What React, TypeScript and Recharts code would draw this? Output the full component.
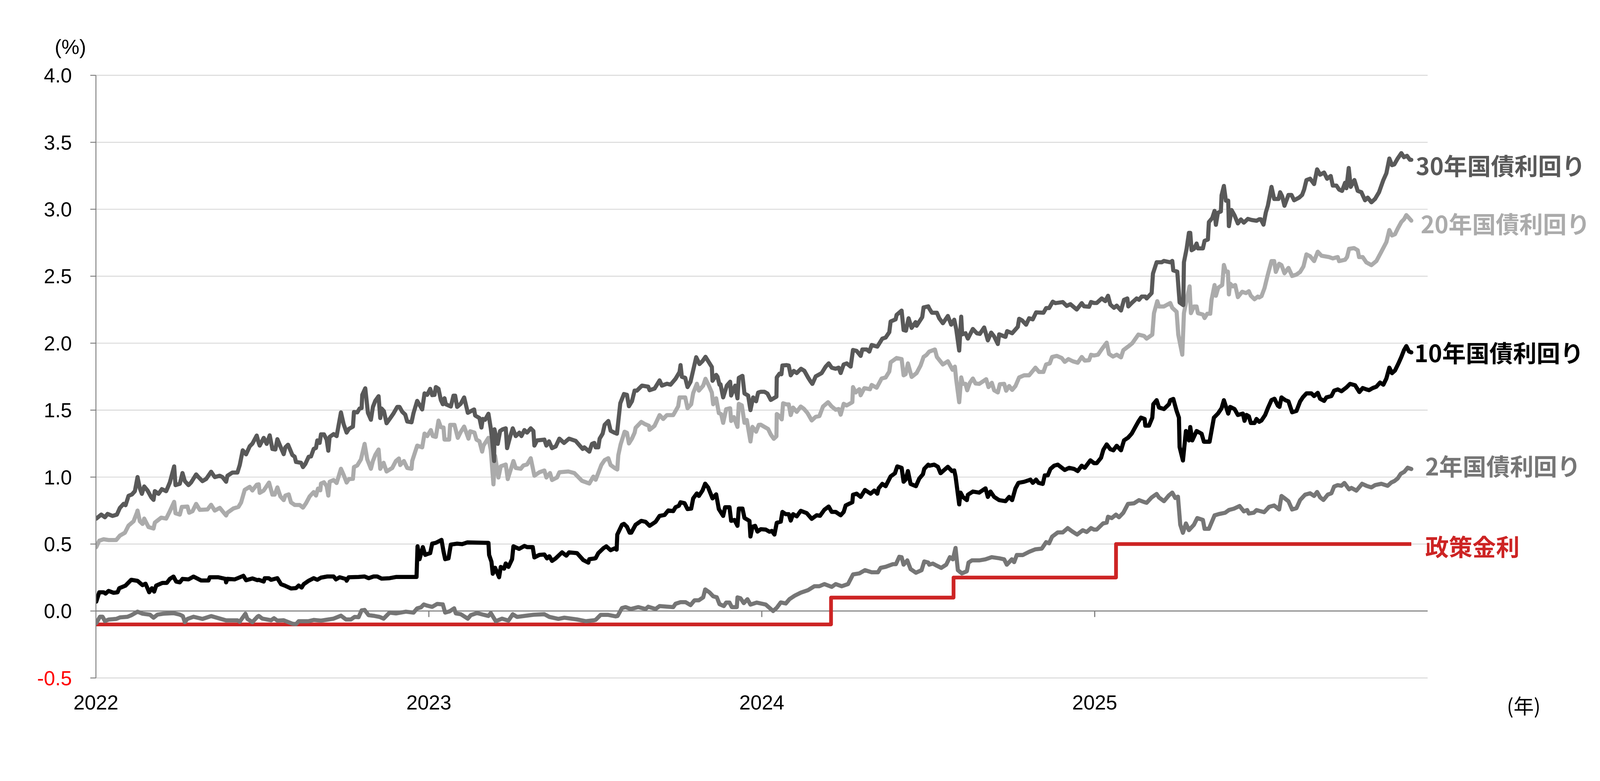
import React from 'react';
import { LineChart, Line, XAxis, YAxis, CartesianGrid, ReferenceLine } from 'recharts';

// decimal year, yield (%)
const jgb30: [number, number][] = [
[2022.001,0.69],[2022.016,0.72],[2022.027,0.70],[2022.035,0.725],[2022.050,0.71],[2022.063,0.72],[2022.072,0.77],[2022.083,0.80],[2022.089,0.79],[2022.098,0.86],[2022.108,0.87],[2022.117,0.895],[2022.125,1.00],[2022.132,0.915],[2022.138,0.875],[2022.145,0.93],[2022.155,0.90],[2022.166,0.85],[2022.173,0.83],[2022.177,0.895],[2022.188,0.875],[2022.198,0.91],[2022.211,0.895],[2022.222,0.96],[2022.235,1.08],[2022.239,0.94],[2022.252,0.95],[2022.260,1.03],[2022.267,0.97],[2022.278,0.94],[2022.286,0.96],[2022.301,1.02],[2022.308,1.00],[2022.320,0.97],[2022.331,0.986],[2022.346,1.04],[2022.357,1.00],[2022.372,1.01],[2022.380,1.00],[2022.391,0.965],[2022.395,1.01],[2022.410,1.034],[2022.425,1.034],[2022.432,1.09],[2022.441,1.20],[2022.451,1.17],[2022.462,1.23],[2022.470,1.25],[2022.483,1.31],
[2022.489,1.255],[2022.492,1.235],[2022.504,1.293],[2022.513,1.248],[2022.522,1.312],[2022.530,1.21],[2022.539,1.206],[2022.545,1.283],[2022.554,1.229],[2022.564,1.171],[2022.569,1.222],[2022.577,1.242],[2022.582,1.213],[2022.590,1.165],[2022.597,1.152],[2022.601,1.113],[2022.616,1.107],[2022.622,1.075],[2022.629,1.098],[2022.639,1.152],[2022.646,1.154],[2022.654,1.21],[2022.661,1.218],[2022.665,1.274],[2022.672,1.255],[2022.676,1.319],[2022.685,1.319],[2022.693,1.28],[2022.698,1.197],[2022.702,1.30],[2022.714,1.321],[2022.723,1.306],[2022.736,1.483],[2022.744,1.396],[2022.753,1.332],[2022.760,1.36],[2022.772,1.377],[2022.775,1.486],[2022.785,1.483],[2022.792,1.512],[2022.798,1.515],[2022.800,1.614],[2022.809,1.663],[2022.817,1.48],[2022.826,1.428],[2022.832,1.524],[2022.839,1.569],[2022.849,1.604],[2022.854,1.441],[2022.858,1.512],[2022.865,1.492],[2022.873,1.402],[2022.886,1.447],[2022.894,1.476],[2022.905,1.524],[2022.912,1.524],[2022.920,1.488],[2022.929,1.467],[2022.935,1.415],[2022.948,1.409],[2022.954,1.479],[2022.965,1.569],[2022.980,1.505],[2022.987,1.625],
[2022.995,1.614],[2023.004,1.659],[2023.010,1.612],[2023.017,1.614],[2023.021,1.672],[2023.029,1.659],[2023.036,1.576],[2023.042,1.544],[2023.047,1.589],[2023.051,1.544],[2023.066,1.527],[2023.074,1.608],[2023.079,1.608],[2023.085,1.524],[2023.096,1.548],[2023.106,1.595],[2023.117,1.48],[2023.126,1.492],[2023.136,1.505],[2023.139,1.46],[2023.152,1.441],[2023.158,1.37],[2023.162,1.434],[2023.169,1.428],[2023.179,1.473],[2023.186,1.364],[2023.190,1.28],[2023.196,1.12],[2023.197,1.357],[2023.207,1.248],[2023.214,1.344],[2023.222,1.357],[2023.231,1.364],[2023.235,1.216],[2023.244,1.30],[2023.252,1.364],[2023.261,1.306],[2023.272,1.332],[2023.278,1.306],[2023.287,1.351],[2023.295,1.332],[2023.306,1.364],[2023.314,1.344],[2023.317,1.235],[2023.325,1.274],[2023.347,1.28],[2023.353,1.235],[2023.361,1.267],[2023.370,1.216],[2023.381,1.229],[2023.392,1.287],[2023.406,1.255],[2023.421,1.287],[2023.441,1.27],[2023.462,1.21],[2023.467,1.222],[2023.482,1.19],[2023.490,1.248],[2023.497,1.255],
[2023.501,1.222],[2023.509,1.222],[2023.513,1.287],[2023.522,1.324],[2023.528,1.39],[2023.539,1.419],[2023.546,1.346],[2023.558,1.331],[2023.565,1.324],[2023.575,1.551],[2023.586,1.62],[2023.595,1.614],[2023.601,1.529],[2023.610,1.566],[2023.618,1.646],[2023.625,1.646],[2023.640,1.683],[2023.659,1.675],[2023.663,1.649],[2023.678,1.661],[2023.693,1.722],[2023.700,1.683],[2023.715,1.697],[2023.726,1.69],[2023.741,1.734],[2023.753,1.785],[2023.756,1.836],[2023.760,1.749],[2023.770,1.741],[2023.777,1.672],[2023.786,1.712],[2023.803,1.895],[2023.813,1.844],[2023.822,1.866],[2023.831,1.898],[2023.841,1.858],[2023.850,1.822],[2023.852,1.719],[2023.863,1.763],[2023.867,1.749],[2023.873,1.69],[2023.876,1.693],[2023.884,1.595],[2023.895,1.683],[2023.905,1.712],[2023.908,1.609],[2023.920,1.683],[2023.927,1.588],[2023.931,1.741],[2023.942,1.756],[2023.948,1.624],[2023.959,1.609],[2023.966,1.50],[2023.974,1.595],[2023.983,1.566],[2023.989,1.631],
[2023.997,1.637],[2024.008,1.637],[2024.017,1.624],[2024.027,1.576],[2024.038,1.592],[2024.044,1.60],[2024.045,1.744],[2024.053,1.772],[2024.059,1.768],[2024.062,1.833],[2024.075,1.836],[2024.081,1.833],[2024.087,1.76],[2024.096,1.793],[2024.105,1.777],[2024.118,1.809],[2024.128,1.793],[2024.139,1.744],[2024.145,1.72],[2024.152,1.696],[2024.162,1.752],[2024.180,1.777],[2024.192,1.825],[2024.201,1.849],[2024.210,1.817],[2024.222,1.809],[2024.231,1.817],[2024.237,1.777],[2024.246,1.841],[2024.255,1.849],[2024.267,1.825],[2024.274,1.949],[2024.285,1.942],[2024.297,1.905],[2024.302,1.953],[2024.315,1.953],[2024.323,1.937],[2024.330,1.986],[2024.347,1.974],[2024.362,2.034],[2024.372,2.042],[2024.383,2.082],[2024.387,2.162],[2024.402,2.178],[2024.405,2.211],[2024.420,2.243],[2024.426,2.098],[2024.433,2.093],[2024.441,2.186],[2024.450,2.114],[2024.462,2.157],[2024.465,2.13],[2024.482,2.195],[2024.486,2.267],[2024.500,2.275],
[2024.503,2.259],[2024.511,2.227],[2024.526,2.227],[2024.533,2.186],[2024.544,2.149],[2024.559,2.203],[2024.569,2.138],[2024.578,2.175],[2024.584,2.106],[2024.593,1.945],[2024.599,2.198],[2024.602,2.066],[2024.612,2.074],[2024.619,2.034],[2024.634,2.106],[2024.646,2.074],[2024.655,2.069],[2024.668,2.117],[2024.679,2.021],[2024.689,2.079],[2024.698,2.05],[2024.709,1.994],[2024.713,2.066],[2024.732,2.047],[2024.737,2.09],[2024.752,2.074],[2024.769,2.122],[2024.773,2.182],[2024.782,2.17],[2024.794,2.138],[2024.803,2.186],[2024.814,2.178],[2024.824,2.23],[2024.846,2.227],[2024.854,2.262],[2024.863,2.262],[2024.874,2.31],[2024.882,2.299],[2024.904,2.307],[2024.916,2.278],[2024.927,2.291],[2024.946,2.251],[2024.961,2.299],[2024.968,2.275],[2024.983,2.272],[2024.989,2.307],
[2024.998,2.30],[2025.006,2.30],[2025.021,2.334],[2025.032,2.314],[2025.040,2.354],[2025.047,2.288],[2025.058,2.264],[2025.066,2.28],[2025.079,2.244],[2025.088,2.324],[2025.098,2.334],[2025.101,2.274],[2025.111,2.30],[2025.126,2.334],[2025.133,2.324],[2025.141,2.348],[2025.152,2.348],[2025.156,2.334],[2025.171,2.374],[2025.175,2.52],[2025.186,2.604],[2025.201,2.604],[2025.208,2.614],[2025.227,2.604],[2025.233,2.614],[2025.236,2.544],[2025.248,2.534],[2025.255,2.304],[2025.266,2.284],[2025.268,2.604],[2025.276,2.704],[2025.283,2.824],[2025.287,2.824],[2025.291,2.694],[2025.298,2.704],[2025.306,2.744],[2025.310,2.708],[2025.325,2.708],[2025.330,2.764],[2025.340,2.774],[2025.343,2.904],[2025.353,2.934],[2025.360,2.988],[2025.364,2.884],[2025.370,2.974],[2025.379,2.984],[2025.381,3.104],[2025.388,3.174],[2025.394,3.064],[2025.401,3.064],[2025.403,2.874],[2025.411,2.994],[2025.420,2.954],[2025.430,2.894],[2025.439,2.924],[2025.448,2.90],[2025.460,2.928],[2025.471,2.92],[2025.486,2.914],
[2025.494,2.925],[2025.499,2.925],[2025.507,2.885],[2025.514,2.976],[2025.520,3.026],[2025.524,3.077],[2025.531,3.167],[2025.539,3.077],[2025.552,3.077],[2025.557,3.127],[2025.563,3.097],[2025.570,3.026],[2025.582,3.107],[2025.591,3.107],[2025.599,3.067],[2025.614,3.087],[2025.623,3.107],[2025.629,3.147],[2025.636,3.218],[2025.647,3.228],[2025.659,3.188],[2025.668,3.298],[2025.677,3.258],[2025.689,3.274],[2025.698,3.228],[2025.709,3.248],[2025.715,3.177],[2025.726,3.177],[2025.734,3.147],[2025.743,3.137],[2025.752,3.198],[2025.756,3.157],[2025.763,3.308],[2025.769,3.167],[2025.780,3.218],[2025.790,3.137],[2025.801,3.127],[2025.812,3.067],[2025.820,3.087],[2025.831,3.052],[2025.842,3.077],[2025.854,3.127],[2025.867,3.218],[2025.876,3.268],[2025.885,3.379],[2025.893,3.329],[2025.900,3.335],[2025.910,3.379],[2025.921,3.419],[2025.929,3.389],[2025.938,3.399],[2025.947,3.369],[2025.951,3.369],
];

const jgb20: [number, number][] = [
[2022.001,0.477],[2022.010,0.525],[2022.023,0.536],[2022.038,0.53],[2022.061,0.53],[2022.072,0.563],[2022.087,0.584],[2022.098,0.638],[2022.113,0.67],[2022.123,0.734],[2022.125,0.75],[2022.132,0.67],[2022.140,0.65],[2022.145,0.69],[2022.158,0.627],[2022.173,0.616],[2022.177,0.66],[2022.196,0.697],[2022.211,0.69],[2022.222,0.745],[2022.235,0.815],[2022.239,0.73],[2022.252,0.72],[2022.258,0.777],[2022.275,0.78],[2022.280,0.734],[2022.290,0.745],[2022.301,0.80],[2022.312,0.755],[2022.335,0.758],[2022.346,0.793],[2022.357,0.75],[2022.372,0.77],[2022.391,0.713],[2022.395,0.734],[2022.413,0.766],[2022.428,0.777],[2022.436,0.81],[2022.447,0.905],[2022.462,0.927],[2022.470,0.90],[2022.483,0.943],
[2022.489,0.946],[2022.492,0.882],[2022.504,0.90],[2022.520,0.959],[2022.530,0.869],[2022.537,0.869],[2022.545,0.923],[2022.554,0.856],[2022.564,0.828],[2022.569,0.862],[2022.579,0.871],[2022.586,0.811],[2022.597,0.792],[2022.612,0.792],[2022.622,0.772],[2022.631,0.805],[2022.642,0.856],[2022.654,0.888],[2022.661,0.862],[2022.667,0.914],[2022.674,0.901],[2022.676,0.952],[2022.685,0.961],[2022.693,0.933],[2022.698,0.862],[2022.702,0.965],[2022.714,0.978],[2022.723,0.956],[2022.736,1.062],[2022.744,1.017],[2022.753,0.959],[2022.760,0.985],[2022.772,0.987],[2022.775,1.075],[2022.785,1.087],[2022.796,1.132],[2022.807,1.248],[2022.815,1.132],[2022.826,1.062],[2022.832,1.12],[2022.839,1.165],[2022.849,1.206],[2022.854,1.062],[2022.864,1.107],[2022.873,1.042],[2022.890,1.068],[2022.901,1.12],[2022.910,1.139],[2022.914,1.09],[2022.925,1.12],[2022.935,1.068],[2022.948,1.062],[2022.950,1.12],[2022.965,1.235],[2022.980,1.222],[2022.987,1.325],
[2022.995,1.306],[2023.006,1.351],[2023.012,1.306],[2023.021,1.30],[2023.029,1.422],[2023.036,1.373],[2023.044,1.37],[2023.047,1.28],[2023.061,1.28],[2023.064,1.39],[2023.077,1.39],[2023.087,1.293],[2023.096,1.338],[2023.106,1.377],[2023.119,1.287],[2023.124,1.342],[2023.137,1.332],[2023.143,1.28],[2023.152,1.267],[2023.160,1.19],[2023.164,1.235],[2023.179,1.293],[2023.186,1.203],[2023.194,0.946],[2023.199,1.158],[2023.209,0.997],[2023.216,1.081],[2023.231,1.094],[2023.237,0.985],[2023.254,1.12],[2023.261,1.068],[2023.276,1.062],[2023.284,1.087],[2023.295,1.094],[2023.306,1.141],[2023.317,1.01],[2023.332,1.036],[2023.347,1.049],[2023.353,0.997],[2023.364,1.03],[2023.370,0.978],[2023.385,0.997],[2023.392,1.036],[2023.419,1.042],[2023.437,1.03],[2023.460,0.972],[2023.482,0.952],[2023.494,1.004],
[2023.501,0.98],[2023.509,1.031],[2023.518,1.09],[2023.528,1.127],[2023.539,1.141],[2023.546,1.09],[2023.558,1.068],[2023.566,1.057],[2023.569,1.163],[2023.576,1.244],[2023.588,1.339],[2023.595,1.331],[2023.601,1.251],[2023.610,1.287],[2023.618,1.331],[2023.621,1.368],[2023.638,1.412],[2023.648,1.397],[2023.661,1.383],[2023.663,1.353],[2023.678,1.383],[2023.693,1.463],[2023.704,1.434],[2023.715,1.463],[2023.734,1.463],[2023.749,1.529],[2023.753,1.595],[2023.770,1.595],[2023.777,1.514],[2023.788,1.544],[2023.794,1.628],[2023.805,1.697],[2023.811,1.646],[2023.824,1.683],[2023.831,1.734],[2023.841,1.683],[2023.850,1.631],[2023.854,1.544],[2023.863,1.588],[2023.871,1.478],[2023.878,1.47],[2023.884,1.405],[2023.893,1.507],[2023.905,1.514],[2023.908,1.419],[2023.916,1.448],[2023.927,1.375],[2023.931,1.547],[2023.940,1.536],[2023.948,1.405],[2023.955,1.426],[2023.966,1.266],[2023.972,1.375],[2023.983,1.339],[2023.991,1.39],
[2023.997,1.391],[2024.008,1.375],[2024.019,1.359],[2024.027,1.318],[2024.036,1.286],[2024.044,1.305],[2024.045,1.471],[2024.053,1.455],[2024.060,1.431],[2024.064,1.551],[2024.074,1.543],[2024.081,1.543],[2024.087,1.463],[2024.094,1.519],[2024.105,1.487],[2024.117,1.527],[2024.126,1.511],[2024.137,1.479],[2024.150,1.423],[2024.162,1.45],[2024.173,1.455],[2024.184,1.527],[2024.199,1.559],[2024.210,1.527],[2024.222,1.503],[2024.231,1.508],[2024.237,1.466],[2024.246,1.547],[2024.255,1.535],[2024.272,1.559],[2024.274,1.672],[2024.282,1.632],[2024.293,1.656],[2024.297,1.611],[2024.308,1.664],[2024.325,1.656],[2024.330,1.688],[2024.345,1.667],[2024.360,1.736],[2024.372,1.744],[2024.383,1.788],[2024.387,1.857],[2024.405,1.889],[2024.420,1.881],[2024.426,1.76],[2024.432,1.768],[2024.439,1.849],[2024.450,1.748],[2024.465,1.777],[2024.477,1.833],[2024.486,1.897],[2024.495,1.913],
[2024.503,1.937],[2024.520,1.953],[2024.526,1.897],[2024.544,1.841],[2024.559,1.865],[2024.573,1.801],[2024.580,1.825],[2024.584,1.728],[2024.593,1.559],[2024.599,1.744],[2024.604,1.696],[2024.612,1.696],[2024.617,1.648],[2024.625,1.704],[2024.634,1.736],[2024.642,1.699],[2024.653,1.696],[2024.674,1.731],[2024.681,1.672],[2024.691,1.704],[2024.698,1.648],[2024.709,1.632],[2024.715,1.693],[2024.728,1.696],[2024.734,1.645],[2024.743,1.68],[2024.752,1.651],[2024.762,1.68],[2024.773,1.744],[2024.788,1.76],[2024.803,1.76],[2024.822,1.817],[2024.833,1.785],[2024.846,1.785],[2024.854,1.841],[2024.865,1.849],[2024.872,1.897],[2024.886,1.905],[2024.901,1.889],[2024.910,1.86],[2024.921,1.881],[2024.934,1.865],[2024.949,1.854],[2024.961,1.897],[2024.970,1.87],[2024.983,1.873],[2024.989,1.913],
[2024.998,1.908],[2025.010,1.914],[2025.021,1.954],[2025.036,2.004],[2025.043,1.92],[2025.055,1.90],[2025.066,1.914],[2025.079,1.894],[2025.086,1.948],[2025.100,1.974],[2025.113,2.00],[2025.131,2.064],[2025.148,2.054],[2025.156,2.034],[2025.173,2.064],[2025.178,2.224],[2025.188,2.314],[2025.193,2.274],[2025.208,2.274],[2025.227,2.30],[2025.233,2.264],[2025.246,2.234],[2025.251,2.064],[2025.263,1.914],[2025.268,2.224],[2025.276,2.324],[2025.285,2.424],[2025.289,2.224],[2025.298,2.274],[2025.306,2.274],[2025.310,2.224],[2025.325,2.214],[2025.330,2.188],[2025.338,2.22],[2025.347,2.22],[2025.351,2.324],[2025.360,2.434],[2025.364,2.354],[2025.371,2.414],[2025.383,2.434],[2025.388,2.584],[2025.394,2.534],[2025.400,2.534],[2025.403,2.364],[2025.407,2.444],[2025.415,2.424],[2025.422,2.434],[2025.430,2.344],[2025.443,2.384],[2025.454,2.374],[2025.463,2.388],[2025.469,2.354],[2025.480,2.328],[2025.490,2.348],
[2025.494,2.341],[2025.501,2.351],[2025.510,2.411],[2025.520,2.512],[2025.531,2.613],[2025.539,2.613],[2025.544,2.532],[2025.554,2.593],[2025.561,2.583],[2025.570,2.522],[2025.582,2.562],[2025.593,2.502],[2025.606,2.512],[2025.617,2.532],[2025.627,2.573],[2025.636,2.663],[2025.647,2.649],[2025.659,2.613],[2025.670,2.683],[2025.681,2.653],[2025.704,2.643],[2025.715,2.633],[2025.730,2.643],[2025.734,2.613],[2025.752,2.623],[2025.758,2.643],[2025.764,2.704],[2025.779,2.71],[2025.790,2.694],[2025.794,2.643],[2025.805,2.643],[2025.816,2.603],[2025.831,2.583],[2025.846,2.613],[2025.861,2.683],[2025.876,2.754],[2025.885,2.845],[2025.893,2.804],[2025.902,2.814],[2025.910,2.855],[2025.921,2.905],[2025.929,2.925],[2025.936,2.956],[2025.944,2.935],[2025.951,2.915],
];

const jgb10: [number, number][] = [
[2022.001,0.07],[2022.010,0.14],[2022.023,0.14],[2022.029,0.13],[2022.038,0.15],[2022.053,0.136],[2022.065,0.14],[2022.070,0.17],[2022.089,0.19],[2022.106,0.233],[2022.125,0.225],[2022.140,0.193],[2022.149,0.204],[2022.160,0.14],[2022.168,0.17],[2022.175,0.145],[2022.181,0.19],[2022.200,0.21],[2022.213,0.21],[2022.222,0.24],[2022.233,0.257],[2022.241,0.22],[2022.252,0.214],[2022.260,0.24],[2022.278,0.236],[2022.293,0.257],[2022.316,0.228],[2022.338,0.228],[2022.342,0.252],[2022.368,0.252],[2022.389,0.24],[2022.391,0.214],[2022.395,0.24],[2022.417,0.236],[2022.443,0.263],[2022.451,0.23],[2022.470,0.243],[2022.485,0.23],
[2022.489,0.233],[2022.504,0.22],[2022.507,0.245],[2022.519,0.245],[2022.526,0.233],[2022.545,0.245],[2022.556,0.20],[2022.567,0.19],[2022.586,0.168],[2022.601,0.171],[2022.609,0.19],[2022.618,0.175],[2022.624,0.20],[2022.639,0.226],[2022.654,0.245],[2022.665,0.233],[2022.676,0.249],[2022.695,0.258],[2022.714,0.258],[2022.721,0.236],[2022.732,0.252],[2022.751,0.239],[2022.753,0.226],[2022.759,0.252],[2022.789,0.254],[2022.807,0.258],[2022.819,0.245],[2022.834,0.258],[2022.845,0.258],[2022.858,0.242],[2022.882,0.245],[2022.901,0.254],[2022.939,0.254],[2022.963,0.254],[2022.966,0.483],[2022.972,0.387],[2022.982,0.477],[2022.989,0.419],
[2022.995,0.425],[2023.004,0.432],[2023.010,0.503],[2023.021,0.509],[2023.038,0.531],[2023.044,0.445],[2023.049,0.387],[2023.059,0.393],[2023.066,0.496],[2023.085,0.503],[2023.100,0.499],[2023.115,0.512],[2023.179,0.509],[2023.181,0.419],[2023.188,0.368],[2023.192,0.278],[2023.199,0.323],[2023.211,0.252],[2023.216,0.329],[2023.226,0.316],[2023.231,0.355],[2023.239,0.329],[2023.250,0.387],[2023.254,0.483],[2023.271,0.464],[2023.287,0.486],[2023.295,0.477],[2023.312,0.477],[2023.317,0.40],[2023.332,0.419],[2023.347,0.422],[2023.355,0.393],[2023.362,0.409],[2023.370,0.374],[2023.381,0.393],[2023.400,0.438],[2023.413,0.413],[2023.421,0.438],[2023.445,0.432],[2023.464,0.38],[2023.479,0.361],[2023.482,0.387],[2023.499,0.393],
[2023.501,0.395],[2023.509,0.432],[2023.524,0.468],[2023.533,0.483],[2023.546,0.454],[2023.558,0.468],[2023.564,0.458],[2023.566,0.571],[2023.580,0.644],[2023.586,0.651],[2023.595,0.629],[2023.603,0.585],[2023.608,0.585],[2023.621,0.644],[2023.638,0.673],[2023.651,0.666],[2023.663,0.636],[2023.681,0.666],[2023.693,0.71],[2023.708,0.717],[2023.719,0.751],[2023.734,0.746],[2023.741,0.775],[2023.751,0.786],[2023.756,0.812],[2023.768,0.805],[2023.777,0.761],[2023.788,0.765],[2023.794,0.841],[2023.805,0.878],[2023.811,0.859],[2023.822,0.90],[2023.830,0.951],[2023.839,0.922],[2023.852,0.841],[2023.863,0.871],[2023.871,0.761],[2023.884,0.71],[2023.890,0.775],[2023.903,0.775],[2023.908,0.673],[2023.918,0.68],[2023.927,0.636],[2023.931,0.765],[2023.942,0.765],[2023.948,0.695],[2023.963,0.673],[2023.966,0.556],[2023.972,0.629],[2023.980,0.636],[2023.987,0.593],
[2023.997,0.611],[2024.012,0.608],[2024.023,0.592],[2024.030,0.598],[2024.038,0.571],[2024.045,0.659],[2024.057,0.667],[2024.062,0.74],[2024.072,0.723],[2024.081,0.723],[2024.087,0.675],[2024.094,0.723],[2024.105,0.707],[2024.117,0.748],[2024.135,0.731],[2024.150,0.688],[2024.165,0.715],[2024.175,0.711],[2024.188,0.756],[2024.201,0.78],[2024.210,0.74],[2024.222,0.74],[2024.237,0.715],[2024.246,0.74],[2024.252,0.788],[2024.272,0.812],[2024.274,0.868],[2024.285,0.876],[2024.297,0.852],[2024.310,0.904],[2024.327,0.876],[2024.338,0.90],[2024.347,0.876],[2024.351,0.916],[2024.362,0.949],[2024.372,0.932],[2024.387,1.005],[2024.400,1.029],[2024.407,1.08],[2024.420,1.069],[2024.426,0.965],[2024.432,0.981],[2024.439,1.045],[2024.447,0.949],[2024.463,0.932],[2024.473,0.989],[2024.484,1.021],[2024.488,1.061],[2024.500,1.093],
[2024.503,1.085],[2024.518,1.093],[2024.529,1.077],[2024.537,1.029],[2024.559,1.077],[2024.571,1.045],[2024.578,1.05],[2024.582,1.005],[2024.593,0.796],[2024.597,0.884],[2024.604,0.852],[2024.616,0.828],[2024.619,0.868],[2024.634,0.892],[2024.653,0.884],[2024.672,0.916],[2024.679,0.852],[2024.687,0.892],[2024.698,0.852],[2024.713,0.828],[2024.732,0.82],[2024.743,0.852],[2024.752,0.828],[2024.762,0.916],[2024.771,0.957],[2024.788,0.965],[2024.807,0.981],[2024.814,0.957],[2024.824,0.981],[2024.831,0.957],[2024.844,0.949],[2024.850,1.013],[2024.859,1.013],[2024.867,1.061],[2024.878,1.085],[2024.889,1.093],[2024.910,1.053],[2024.923,1.069],[2024.938,1.061],[2024.949,1.045],[2024.961,1.085],[2024.970,1.069],[2024.987,1.125],
[2024.998,1.104],[2025.006,1.104],[2025.019,1.144],[2025.026,1.204],[2025.036,1.244],[2025.047,1.208],[2025.056,1.20],[2025.066,1.234],[2025.079,1.20],[2025.088,1.274],[2025.100,1.294],[2025.111,1.324],[2025.122,1.374],[2025.131,1.414],[2025.139,1.444],[2025.150,1.434],[2025.152,1.384],[2025.163,1.384],[2025.173,1.444],[2025.176,1.544],[2025.186,1.574],[2025.193,1.52],[2025.208,1.508],[2025.223,1.544],[2025.227,1.574],[2025.236,1.584],[2025.246,1.494],[2025.253,1.444],[2025.255,1.224],[2025.265,1.124],[2025.274,1.344],[2025.283,1.274],[2025.287,1.374],[2025.293,1.274],[2025.306,1.344],[2025.321,1.324],[2025.328,1.264],[2025.345,1.264],[2025.358,1.444],[2025.370,1.474],[2025.381,1.514],[2025.388,1.574],[2025.401,1.474],[2025.407,1.524],[2025.420,1.508],[2025.430,1.464],[2025.445,1.474],[2025.450,1.42],[2025.456,1.464],[2025.463,1.454],[2025.469,1.404],[2025.480,1.404],[2025.486,1.434],
[2025.494,1.413],[2025.501,1.423],[2025.512,1.464],[2025.520,1.514],[2025.531,1.575],[2025.540,1.585],[2025.550,1.534],[2025.555,1.524],[2025.561,1.595],[2025.572,1.575],[2025.582,1.565],[2025.593,1.484],[2025.606,1.494],[2025.617,1.565],[2025.625,1.595],[2025.636,1.625],[2025.651,1.625],[2025.659,1.605],[2025.670,1.629],[2025.677,1.585],[2025.689,1.569],[2025.696,1.595],[2025.711,1.605],[2025.719,1.645],[2025.730,1.655],[2025.741,1.641],[2025.756,1.669],[2025.767,1.696],[2025.782,1.686],[2025.790,1.655],[2025.795,1.635],[2025.805,1.665],[2025.816,1.655],[2025.824,1.649],[2025.835,1.665],[2025.846,1.675],[2025.857,1.706],[2025.867,1.69],[2025.876,1.736],[2025.885,1.817],[2025.893,1.776],[2025.902,1.796],[2025.912,1.847],[2025.921,1.897],[2025.929,1.948],[2025.936,1.978],[2025.944,1.938],[2025.951,1.931],
];

const jgb2: [number, number][] = [
[2022.001,-0.09],[2022.012,-0.043],[2022.020,-0.043],[2022.027,-0.075],[2022.038,-0.064],[2022.061,-0.059],[2022.072,-0.048],[2022.095,-0.043],[2022.106,-0.032],[2022.125,-0.005],[2022.140,-0.02],[2022.162,-0.027],[2022.173,-0.05],[2022.185,-0.027],[2022.203,-0.02],[2022.233,-0.016],[2022.252,-0.027],[2022.261,-0.038],[2022.267,-0.083],[2022.275,-0.059],[2022.293,-0.043],[2022.320,-0.059],[2022.346,-0.038],[2022.391,-0.07],[2022.425,-0.07],[2022.432,-0.08],[2022.449,-0.02],[2022.455,-0.059],[2022.470,-0.083],[2022.485,-0.043],
[2022.489,-0.037],[2022.500,-0.057],[2022.526,-0.069],[2022.535,-0.054],[2022.545,-0.072],[2022.564,-0.069],[2022.590,-0.095],[2022.601,-0.098],[2022.609,-0.076],[2022.639,-0.076],[2022.654,-0.067],[2022.676,-0.072],[2022.714,-0.057],[2022.736,-0.035],[2022.751,-0.063],[2022.766,-0.063],[2022.777,-0.044],[2022.789,-0.046],[2022.798,0.005],[2022.807,0.008],[2022.819,-0.031],[2022.837,-0.037],[2022.852,-0.044],[2022.864,-0.057],[2022.882,-0.012],[2022.901,-0.018],[2022.931,-0.005],[2022.954,-0.012],[2022.965,0.02],[2022.976,0.027],[2022.985,0.049],
[2022.995,0.04],[2023.010,0.031],[2023.025,0.053],[2023.042,0.049],[2023.049,-0.012],[2023.062,-0.003],[2023.076,0.02],[2023.081,-0.018],[2023.096,-0.024],[2023.117,-0.057],[2023.126,-0.031],[2023.145,-0.015],[2023.164,-0.028],[2023.179,-0.037],[2023.186,-0.015],[2023.201,-0.076],[2023.220,-0.057],[2023.239,-0.072],[2023.252,-0.024],[2023.265,-0.044],[2023.314,-0.028],[2023.347,-0.024],[2023.362,-0.044],[2023.389,-0.059],[2023.407,-0.05],[2023.445,-0.063],[2023.471,-0.076],[2023.497,-0.069],
[2023.501,-0.066],[2023.516,-0.029],[2023.539,-0.029],[2023.561,-0.04],[2023.567,-0.037],[2023.580,0.022],[2023.591,0.029],[2023.606,0.015],[2023.629,0.029],[2023.651,0.015],[2023.659,0.032],[2023.681,0.015],[2023.693,0.037],[2023.734,0.029],[2023.741,0.054],[2023.756,0.066],[2023.771,0.066],[2023.786,0.044],[2023.798,0.08],[2023.811,0.08],[2023.824,0.102],[2023.830,0.161],[2023.843,0.139],[2023.854,0.11],[2023.865,0.102],[2023.873,0.051],[2023.886,0.037],[2023.893,0.063],[2023.903,0.063],[2023.910,0.029],[2023.925,0.029],[2023.927,0.102],[2023.936,0.095],[2023.946,0.059],[2023.957,0.088],[2023.966,0.048],[2023.985,0.063],
[2023.997,0.056],[2024.012,0.048],[2024.023,0.024],[2024.034,0.0],[2024.045,0.024],[2024.057,0.064],[2024.072,0.056],[2024.083,0.088],[2024.098,0.113],[2024.117,0.137],[2024.139,0.156],[2024.158,0.185],[2024.173,0.185],[2024.188,0.201],[2024.210,0.18],[2024.222,0.201],[2024.240,0.185],[2024.259,0.201],[2024.274,0.273],[2024.293,0.281],[2024.310,0.305],[2024.330,0.289],[2024.349,0.289],[2024.357,0.322],[2024.372,0.33],[2024.394,0.35],[2024.403,0.35],[2024.413,0.405],[2024.420,0.402],[2024.426,0.346],[2024.437,0.378],[2024.447,0.313],[2024.463,0.286],[2024.480,0.305],[2024.488,0.37],[2024.500,0.362],
[2024.503,0.346],[2024.514,0.354],[2024.526,0.338],[2024.539,0.322],[2024.554,0.346],[2024.565,0.402],[2024.574,0.386],[2024.582,0.471],[2024.589,0.305],[2024.601,0.281],[2024.616,0.297],[2024.621,0.362],[2024.631,0.378],[2024.653,0.378],[2024.672,0.386],[2024.691,0.402],[2024.713,0.394],[2024.728,0.386],[2024.736,0.346],[2024.751,0.386],[2024.758,0.365],[2024.766,0.418],[2024.784,0.418],[2024.803,0.442],[2024.822,0.461],[2024.841,0.466],[2024.854,0.514],[2024.863,0.506],[2024.872,0.555],[2024.889,0.587],[2024.904,0.587],[2024.919,0.619],[2024.932,0.595],[2024.947,0.571],[2024.964,0.603],[2024.976,0.59],[2024.989,0.619],
[2024.998,0.608],[2025.006,0.608],[2025.025,0.654],[2025.036,0.66],[2025.040,0.704],[2025.051,0.694],[2025.064,0.72],[2025.073,0.70],[2025.086,0.734],[2025.100,0.80],[2025.118,0.804],[2025.133,0.828],[2025.148,0.814],[2025.156,0.808],[2025.171,0.848],[2025.186,0.874],[2025.193,0.848],[2025.208,0.82],[2025.223,0.864],[2025.233,0.884],[2025.242,0.844],[2025.250,0.854],[2025.257,0.644],[2025.265,0.584],[2025.274,0.654],[2025.283,0.604],[2025.298,0.644],[2025.308,0.694],[2025.325,0.68],[2025.330,0.614],[2025.343,0.614],[2025.360,0.714],[2025.373,0.724],[2025.392,0.734],[2025.403,0.754],[2025.418,0.764],[2025.435,0.784],[2025.448,0.744],[2025.458,0.754],[2025.463,0.728],[2025.478,0.734],[2025.486,0.754],
[2025.494,0.748],[2025.509,0.738],[2025.524,0.778],[2025.539,0.788],[2025.554,0.758],[2025.561,0.859],[2025.572,0.839],[2025.582,0.819],[2025.593,0.758],[2025.606,0.768],[2025.617,0.829],[2025.632,0.869],[2025.647,0.879],[2025.659,0.859],[2025.668,0.889],[2025.677,0.849],[2025.687,0.829],[2025.700,0.869],[2025.711,0.879],[2025.719,0.929],[2025.730,0.94],[2025.741,0.935],[2025.750,0.956],[2025.764,0.909],[2025.771,0.919],[2025.786,0.899],[2025.794,0.923],[2025.803,0.95],[2025.816,0.935],[2025.831,0.923],[2025.842,0.94],[2025.861,0.95],[2025.880,0.935],[2025.891,0.96],[2025.900,0.97],[2025.910,0.99],[2025.919,1.024],[2025.930,1.04],[2025.940,1.07],[2025.951,1.06],
];

const policyRate: [number, number][] = [
[2022.0,-0.1],[2024.208,0.1],[2024.576,0.25],[2025.064,0.5],[2025.951,0.5],
];

const yearTicks = [2022, 2023, 2024, 2025];
const yTicks = [-0.5, 0, 0.5, 1.0, 1.5, 2.0, 2.5, 3.0, 3.5, 4.0];

const toRows = (arr: [number, number][]) => arr.map(([t, v]) => ({ t, v }));

const LATIN = "'Liberation Sans', Arial, sans-serif";
const CJK = "'Noto Sans CJK JP', 'Noto Sans', sans-serif";

const W = 4270;
const H = 1999;

const endLabel = (text: string, color: string, dx: number, dy: number, n: number) => (props: any) => {
  const idx = props.index;
  if (idx !== n - 1) return null;
  const x = props.x ?? props.viewBox?.x;
  const y = props.y ?? props.viewBox?.y;
  if (x == null || y == null) return null;
  return (
    <text key={text} x={x + dx} y={y + dy} fill={color} fontSize={63} fontWeight={700} fontFamily={CJK} dominantBaseline="central">
      {text}
    </text>
  );
};

const YTick = (props: any) => {
  const { x, y, payload } = props;
  const v = payload.value as number;
  return (
    <text x={x} y={y} dy="0.355em" textAnchor="end" fontSize={54} fontFamily={LATIN} fill={v < 0 ? '#ff0000' : '#000000'}>
      {v.toFixed(1)}
    </text>
  );
};

function fitScale(): number {
  if (typeof window === 'undefined') return 1;
  const vw = document.documentElement.clientWidth || window.innerWidth || W;
  const vh = document.documentElement.clientHeight || window.innerHeight || H;
  const s = Math.min(vw / W, vh / H);
  return s > 0 && s < 1 ? s : 1;
}

export default function App() {
  const s = fitScale();
  const d30 = toRows(jgb30);
  const d20 = toRows(jgb20);
  const d10 = toRows(jgb10);
  const d2 = toRows(jgb2);
  const dp = toRows(policyRate);
  const lineCommon = {
    dot: false as const,
    activeDot: false as const,
    isAnimationActive: false,
    strokeLinejoin: 'round' as const,
    strokeLinecap: 'round' as const,
    strokeWidth: 11,
    dataKey: 'v',
  };
  return (
    <div style={{ position: 'absolute', left: 0, top: 0, width: W * s, height: H * s, overflow: 'hidden', background: '#ffffff' }}>
      <div style={{ width: W, height: H, transform: `scale(${s})`, transformOrigin: '0 0' }}>
        <LineChart width={W} height={H} margin={{ top: 201, right: 460, bottom: 60, left: 0 }}>
          <CartesianGrid horizontal vertical={false} stroke="#d9d9d9" strokeWidth={2.5} />
          <XAxis
            type="number"
            dataKey="t"
            domain={[2022, 2026]}
            ticks={yearTicks}
            interval={0}
            allowDataOverflow
            axisLine={false}
            tickLine={false}
            tickSize={0}
            tickMargin={46}
            height={130}
            tickFormatter={(v: number) => String(Math.round(v))}
            tick={{ fill: '#000000', fontSize: 54, fontFamily: LATIN }}
            label={{
              content: (p: any) => {
                const vb = p.viewBox || {};
                return (
                  <text x={(vb.x ?? 256) + (vb.width ?? 3554) + 211} y={1881} dominantBaseline="central" fontSize={54} fontFamily={CJK} fill="#000000">
                    (年)
                  </text>
                );
              },
            }}
          />
          <YAxis
            type="number"
            domain={[-0.5, 4.0]}
            ticks={yTicks}
            interval={0}
            allowDataOverflow
            width={256}
            axisLine={{ stroke: '#7f7f7f', strokeWidth: 2.5 }}
            tickLine={{ stroke: '#7f7f7f', strokeWidth: 2.5 }}
            tickSize={15}
            tickMargin={49}
            tick={<YTick />}
            label={{
              content: (p: any) => {
                const vb = p.viewBox || {};
                return (
                  <text x={(vb.x ?? 0) + 188} y={(vb.y ?? 201) - 76} textAnchor="middle" dominantBaseline="central" fontSize={54} fontFamily={LATIN} fill="#000000">
                    (%)
                  </text>
                );
              },
            }}
          />
          <ReferenceLine y={0} stroke="#7f7f7f" strokeWidth={3} />
          {yearTicks.slice(1).map((yr) => (
            <ReferenceLine key={yr} segment={[{ x: yr, y: 0 }, { x: yr, y: -0.045 }]} stroke="#7f7f7f" strokeWidth={3} />
          ))}
          <Line {...lineCommon} data={dp} type="stepAfter" stroke="#cd2424" strokeWidth={10} strokeLinecap="butt" label={endLabel('政策金利', '#cd2424', 37, 4, dp.length)} />
          <Line {...lineCommon} data={d2} type="linear" stroke="#767676" label={endLabel('2年国債利回り', '#767676', 37, -11, d2.length)} />
          <Line {...lineCommon} data={d10} type="linear" stroke="#000000" label={endLabel('10年国債利回り', '#000000', 8, -2, d10.length)} />
          <Line {...lineCommon} data={d20} type="linear" stroke="#ababab" label={endLabel('20年国債利回り', '#ababab', 25, 6, d20.length)} />
          <Line {...lineCommon} data={d30} type="linear" stroke="#595959" label={endLabel('30年国債利回り', '#595959', 12, 13, d30.length)} />
        </LineChart>
      </div>
    </div>
  );
}
